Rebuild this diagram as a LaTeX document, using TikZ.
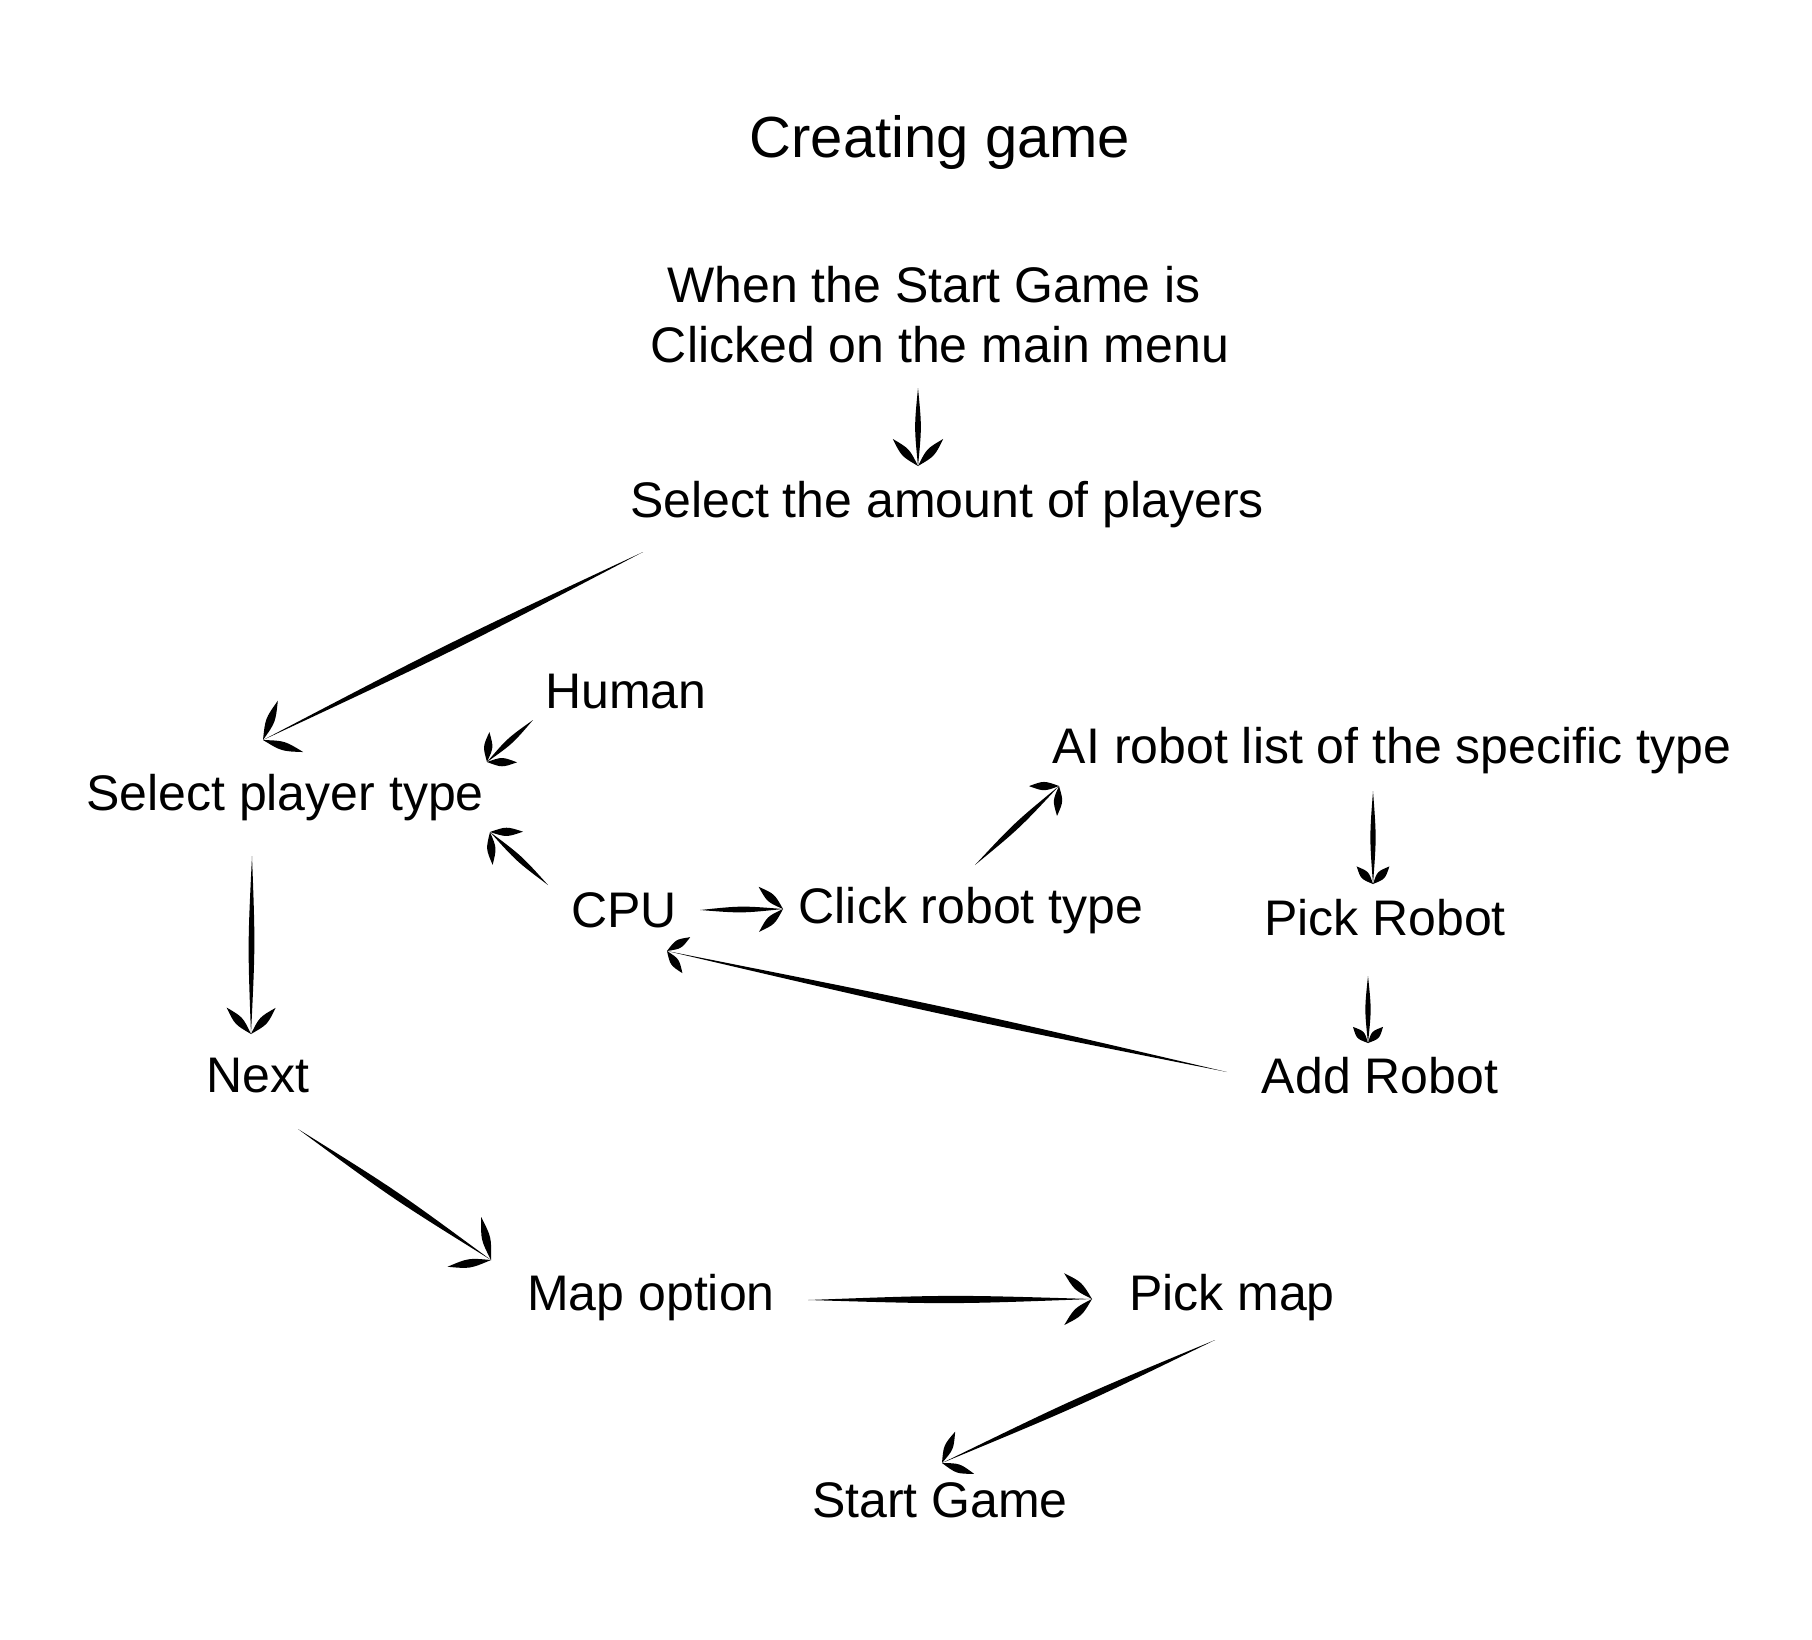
\documentclass[tikz,border=0pt]{standalone}
\usepackage{fontspec}
\setmainfont{Liberation Sans}
\usetikzlibrary{calc}
\tikzset{
  lbl/.style={anchor=base, inner sep=0pt, font=\fontsize{50}{60}\selectfont},
  ttl/.style={anchor=base, inner sep=0pt, font=\fontsize{58}{70}\selectfont},
}
% brush-stroke arrow: [shaft width]{start}{tip}{barb length}
\newcommand\brush[4][4.5]{%
  \path (#2) coordinate (bS) (#3) coordinate (bT);
  \path ($(bT)!#4pt!43:(bS)$) coordinate (bA) ($(bT)!#4pt!-43:(bS)$) coordinate (bB);
  \fill (bS) .. controls ($(bS)!0.5!(bT)!#1pt!90:(bT)$) .. (bT)
        .. controls ($(bS)!0.5!(bT)!#1pt!-90:(bT)$) .. (bS) -- cycle;
  \fill (bT) .. controls ($(bT)!0.5!(bA)!5.5pt!90:(bA)$) .. (bA)
        .. controls ($(bT)!0.5!(bA)!5.5pt!-90:(bA)$) .. (bT) -- cycle;
  \fill (bT) .. controls ($(bT)!0.5!(bB)!5.5pt!90:(bB)$) .. (bB)
        .. controls ($(bT)!0.5!(bB)!5.5pt!-90:(bB)$) .. (bT) -- cycle;
}
\begin{document}
\begin{tikzpicture}[x=1pt,y=-1pt]
\useasboundingbox (0,0) rectangle (1812,1640);
\fill[white] (0,0) rectangle (1812,1640);

\node[ttl] (title) at (940,158) {Creating game};
\node[lbl] (whenA) at (934,302) {When the Start Game is};
\node[lbl] (whenB) at (940,362) {Clicked on the main menu};
\node[lbl] (sap) at (947,517) {Select the amount of players};
\node[lbl] (spt) at (285,810) {Select player type};
\node[lbl] (human) at (626,708) {Human};
\node[lbl] (cpu) at (624,927) {CPU};
\node[lbl] (click) at (971,923) {Click robot type};
\node[lbl] (ai) at (1392,763) {AI robot list of the specific type};
\node[lbl] (pickr) at (1385,935) {Pick Robot};
\node[lbl] (addr) at (1380,1093) {Add Robot};
\node[lbl] (next) at (258,1092) {Next};
\node[lbl] (mapopt) at (651,1310) {Map option};
\node[lbl] (pickmap) at (1232,1310) {Pick map};
\node[lbl] (startg) at (940,1517) {Start Game};

\brush[3.8]{$(whenB.base)+(-22,26)$}{$(sap.base)+(-29,-51)$}{37}
\brush[4.8]{$(sap.base)+(-304,35)$}{$(spt.base)+(-22,-70)$}{42}
\brush[3.8]{$(human.base)+(-93,12)$}{$(spt.base)+(202,-48)$}{30}
\brush[3.8]{$(cpu.base)+(-76,-42)$}{$(spt.base)+(205,22)$}{33}
\brush[3.8]{$(cpu.base)+(76,-17)$}{$(click.base)+(-188,-14)$}{33}
\brush[3.8]{$(click.base)+(4,-58)$}{$(ai.base)+(-333,23)$}{30}
\brush[3.5]{$(ai.base)+(-19,28)$}{$(pickr.base)+(-12,-51)$}{24}
\brush[3.5]{$(pickr.base)+(-17,41)$}{$(addr.base)+(-12,-50)$}{22}
\brush[4.8]{$(addr.base)+(-153,-21)$}{$(cpu.base)+(43,24)$}{27}
\brush[3.8]{$(spt.base)+(-33,46)$}{$(next.base)+(-7,-58)$}{36}
\brush[4.5]{$(next.base)+(40,37)$}{$(mapopt.base)+(-160,-50)$}{44}
\brush[4.8]{$(mapopt.base)+(157,-10)$}{$(pickmap.base)+(-140,-11)$}{38}
\brush[4.5]{$(pickmap.base)+(-17,30)$}{$(startg.base)+(2,-54)$}{34}
\end{tikzpicture}
\end{document}
